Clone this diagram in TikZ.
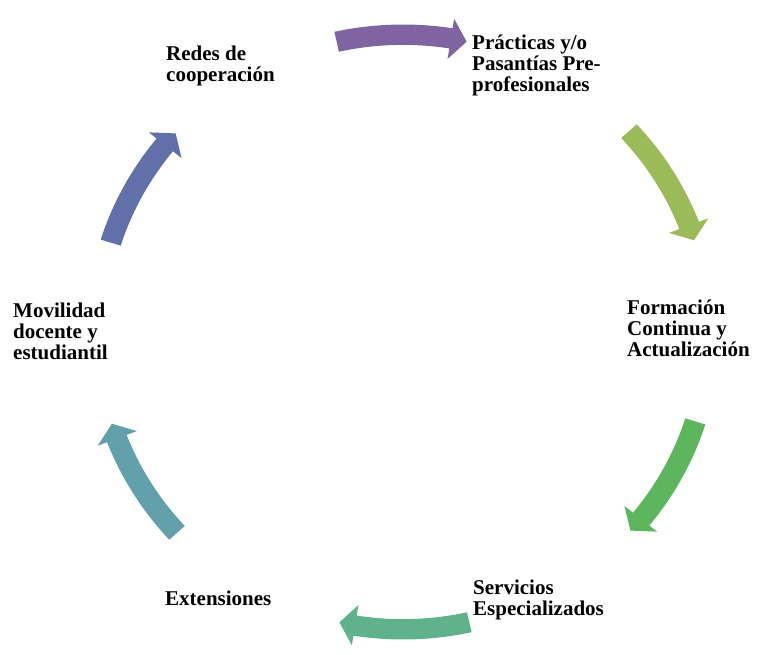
\documentclass[tikz,border=0pt]{standalone}
\usepackage{fontspec}
\setmainfont{Liberation Serif}
\definecolor{cPurple}{HTML}{8064A2}
\definecolor{cLime}{HTML}{9BBB59}
\definecolor{cGreen}{HTML}{5DB65E}
\definecolor{cSea}{HTML}{60B28C}
\definecolor{cTeal}{HTML}{62A0AC}
\definecolor{cSlate}{HTML}{6270AA}
% block arc arrow around (c): #1 = centre angle, #2 = colour
\newcommand\cycarrow[2]{%
  \fill[#2, shift={(c)}, yscale=0.97]
    ({#1+12.5}:296) arc[start angle={#1+12.5}, end angle={#1-9}, radius=296]
    -- ({#1-9}:285) -- ({#1-12}:306) -- ({#1-9}:327) -- ({#1-9}:317)
    arc[start angle={#1-9}, end angle={#1+12.5}, radius=317] -- cycle;}
\begin{document}
\begin{tikzpicture}[x=1pt,y=1pt,
  lbl/.style={font=\bfseries\fontsize{21}{21}\selectfont, align=left,
              anchor=base west, inner sep=0pt, text=black}]
\useasboundingbox (0,0) rectangle (758,654);
\coordinate (c) at (403,322);
\node[lbl] (redes) at (166,572) {Redes de\\cooperación};
\node[lbl] (prac) at (472,562) {Prácticas y/o\\Pasantías Pre-\\profesionales};
\node[lbl] (form) at (627,297) {Formación\\Continua y\\Actualización};
\node[lbl] (serv) at (473,39) {Servicios\\Especializados};
\node[lbl] (ext) at (165,49) {Extensiones};
\node[lbl] (mov) at (13,294) {Movilidad\\docente y\\estudiantil};
\cycarrow{90}{cPurple}
\cycarrow{30}{cLime}
\cycarrow{-30}{cGreen}
\cycarrow{-90}{cSea}
\cycarrow{-150}{cTeal}
\cycarrow{150}{cSlate}
\end{tikzpicture}
\end{document}
